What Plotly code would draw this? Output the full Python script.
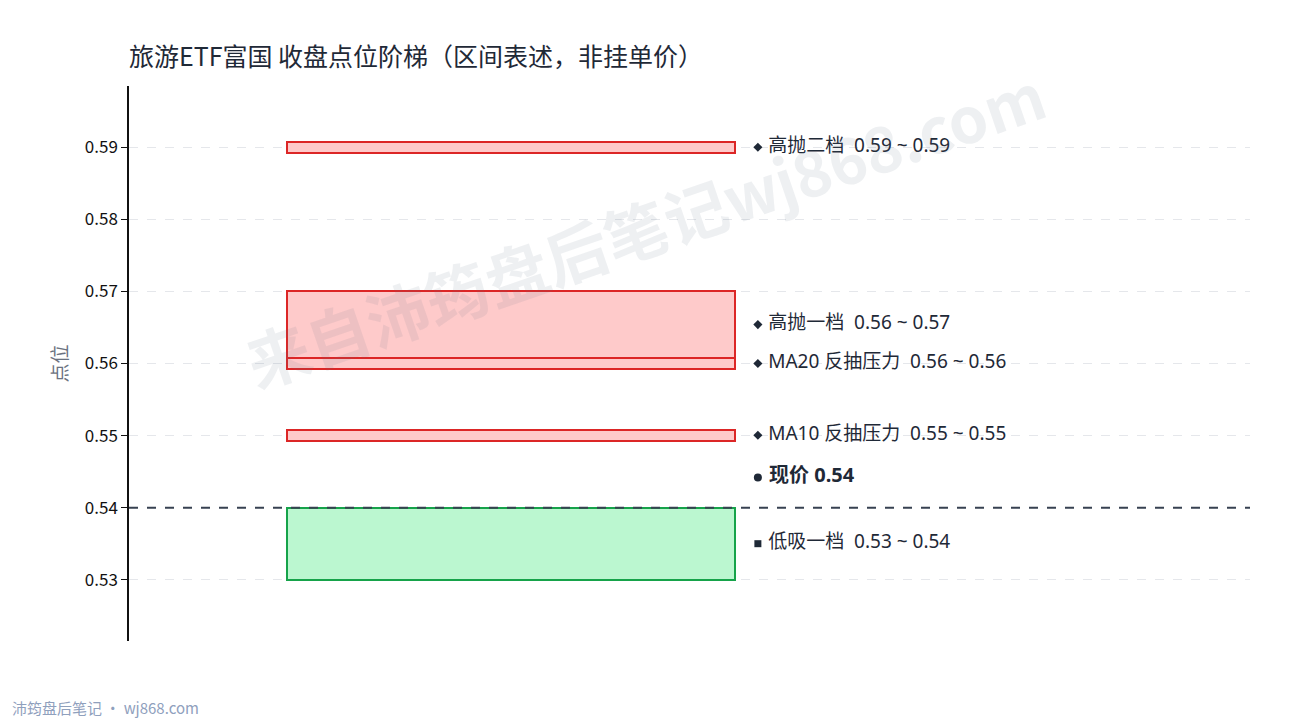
import plotly.graph_objects as go

# 区间数据（下沿、上沿）
zone_names = ["高抛二档", "高抛一档", "MA20 反抽压力", "MA10 反抽压力", "低吸一档"]
zone_low = [0.5892, 0.5608, 0.5592, 0.5493, 0.5300]
zone_high = [0.5908, 0.5700, 0.5608, 0.5508, 0.5400]
zone_kind = ["sell", "sell", "sell", "sell", "buy"]
current_price = 0.54

tick_vals = [0.53, 0.54, 0.55, 0.56, 0.57, 0.58, 0.59]

font_cn = "Noto Sans CJK SC, Noto Sans, sans-serif"
font_lab = "Noto Sans, Noto Sans CJK SC, sans-serif"
dark = "#1f2937"

fig = go.Figure()

# boxes as bars with base
for name, lo, hi, kind in zip(zone_names, zone_low, zone_high, zone_kind):
    if kind == "sell":
        fill, edge = "#fecaca", "#dc2626"
    else:
        fill, edge = "#bbf7d0", "#16a34a"
    fig.add_trace(go.Bar(x=[0.341], y=[hi - lo], base=[lo], width=[0.4],
                         marker=dict(color=fill, line=dict(color=edge, width=2)),
                         name=name, hoverinfo="skip", showlegend=False))

# labels with markers
lab_y = [(lo + hi) / 2 for lo, hi in zip(zone_low, zone_high)]
lab_text = [f" {n}  {lo:.2f} ~ {hi:.2f}" for n, lo, hi in zip(zone_names, zone_low, zone_high)]
lab_sym = ["diamond" if k == "sell" else "square" for k in zone_kind]
fig.add_trace(go.Scatter(x=[0.561] * len(lab_y), y=lab_y, mode="markers+text",
                         text=lab_text, textposition="middle right",
                         marker=dict(symbol=lab_sym, size=7, color=dark),
                         textfont=dict(size=19, color=dark, family=font_lab),
                         hoverinfo="skip", showlegend=False))
fig.add_trace(go.Scatter(x=[0.561], y=[current_price + 0.0042], mode="markers+text",
                         text=[f" <b>现价 {current_price:.2f}</b>"], textposition="middle right",
                         marker=dict(symbol="circle", size=8, color=dark),
                         textfont=dict(size=20, color=dark, family=font_lab),
                         hoverinfo="skip", showlegend=False))

# 现价 dashed line
fig.add_hline(y=current_price, line=dict(color="#374151", width=2, dash="dash"), layer="above")

# watermark
fig.add_annotation(text="<b>来自沛筠盘后笔记wj868.com</b>", xref="paper", yref="paper",
                   x=0.46, y=0.746, xanchor="center", yanchor="middle", showarrow=False,
                   textangle=-19,
                   font=dict(size=63, color="rgba(100,116,139,0.11)", family=font_cn))
# footer
fig.add_annotation(text="沛筠盘后笔记 · wj868.com", xref="paper", yref="paper",
                   x=-0.106, y=-0.119, xanchor="left", yanchor="middle", showarrow=False,
                   font=dict(size=15, color="#8fa0bd", family=font_cn))

fig.update_layout(
    width=1290, height=720,
    paper_bgcolor="white", plot_bgcolor="white",
    margin=dict(l=121, r=48, t=78, b=87),
    title=dict(text="旅游ETF富国 收盘点位阶梯（区间表述，非挂单价）", x=0.0938, xanchor="left",
               y=0.932, yanchor="middle", font=dict(size=25, color=dark, family=font_cn)),
    font=dict(family=font_cn),
    barmode="overlay", bargap=0,
)
fig.update_xaxes(range=[0, 1], visible=False, showgrid=False, automargin=False)
fig.update_yaxes(range=[0.5215, 0.5985], tickvals=tick_vals, ticktext=[f"{v:.2f}" for v in tick_vals],
                 showline=True, linecolor="#111111", linewidth=1.5, ticks="outside", ticklen=6,
                 tickcolor="#111111", showgrid=True, gridcolor="#e5e7eb", griddash="dash",
                 zeroline=False, tickfont=dict(size=17, color="#111111"), automargin=False,
                 title=dict(text="点位", font=dict(size=19, color="#6b7280"), standoff=12))

fig.write_html("out.html")
